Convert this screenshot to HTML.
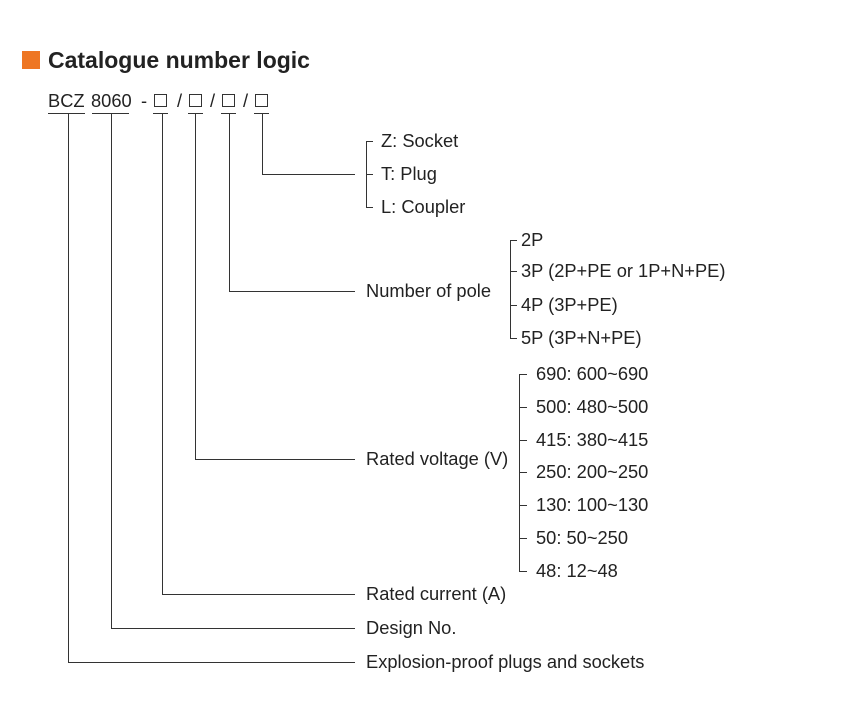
<!DOCTYPE html>
<html><head><meta charset="utf-8"><style>
html,body{margin:0;padding:0;background:#fff;}
svg{display:block;}
text{font-family:"Liberation Sans",Arial,sans-serif;font-size:18.3px;fill:#222;}
</style></head><body>
<svg width="849" height="728" viewBox="0 0 849 728">
<rect x="22" y="51" width="18" height="18" fill="#ee7623"/>
<text x="48" y="68" style="font-size:23px;font-weight:bold;fill:#222">Catalogue number logic</text>
<text x="48" y="107">BCZ</text>
<text x="91" y="107">8060</text>
<text x="141" y="107">-</text>
<text x="177" y="107">/</text>
<text x="210" y="107">/</text>
<text x="243" y="107">/</text>
<g stroke="#333" stroke-width="1" fill="none">
<rect x="154.5" y="94.5" width="12" height="12"/>
<rect x="189.5" y="94.5" width="12" height="12"/>
<rect x="222.5" y="94.5" width="12" height="12"/>
<rect x="255.5" y="94.5" width="12" height="12"/>
<path d="M48 113.5H85M92 113.5H129M153 113.5H168M188 113.5H203M221 113.5H236M254 113.5H269"/>
<path d="M262.5 113V174.5H355"/>
<path d="M229.5 113V291.5H355"/>
<path d="M195.5 113V459.5H355"/>
<path d="M162.5 113V594.5H355"/>
<path d="M111.5 113V628.5H355"/>
<path d="M68.5 113V662.5H355"/>
<path d="M373 141.5H366.5V207.5H373M366.5 174.5H373"/>
<path d="M517 240.5H510.5V338.5H517M510.5 271.5H517M510.5 305.5H517"/>
<path d="M527 374.5H519.5V571.5H527M519.5 407.5H527M519.5 440.5H527M519.5 472.5H527M519.5 505.5H527M519.5 538.5H527"/>
</g>
<g>
<text x="381" y="147">Z: Socket</text>
<text x="381" y="180">T: Plug</text>
<text x="381" y="213">L: Coupler</text>
<text x="366" y="297">Number of pole</text>
<text x="521" y="246">2P</text>
<text x="521" y="277">3P (2P+PE or 1P+N+PE)</text>
<text x="521" y="311">4P (3P+PE)</text>
<text x="521" y="344">5P (3P+N+PE)</text>
<text x="366" y="465">Rated voltage (V)</text>
<text x="536" y="380">690: 600~690</text>
<text x="536" y="413">500: 480~500</text>
<text x="536" y="446">415: 380~415</text>
<text x="536" y="478">250: 200~250</text>
<text x="536" y="511">130: 100~130</text>
<text x="536" y="544">50: 50~250</text>
<text x="536" y="577">48: 12~48</text>
<text x="366" y="600">Rated current (A)</text>
<text x="366" y="634">Design No.</text>
<text x="366" y="668">Explosion-proof plugs and sockets</text>
</g>
</svg>
</body></html>
